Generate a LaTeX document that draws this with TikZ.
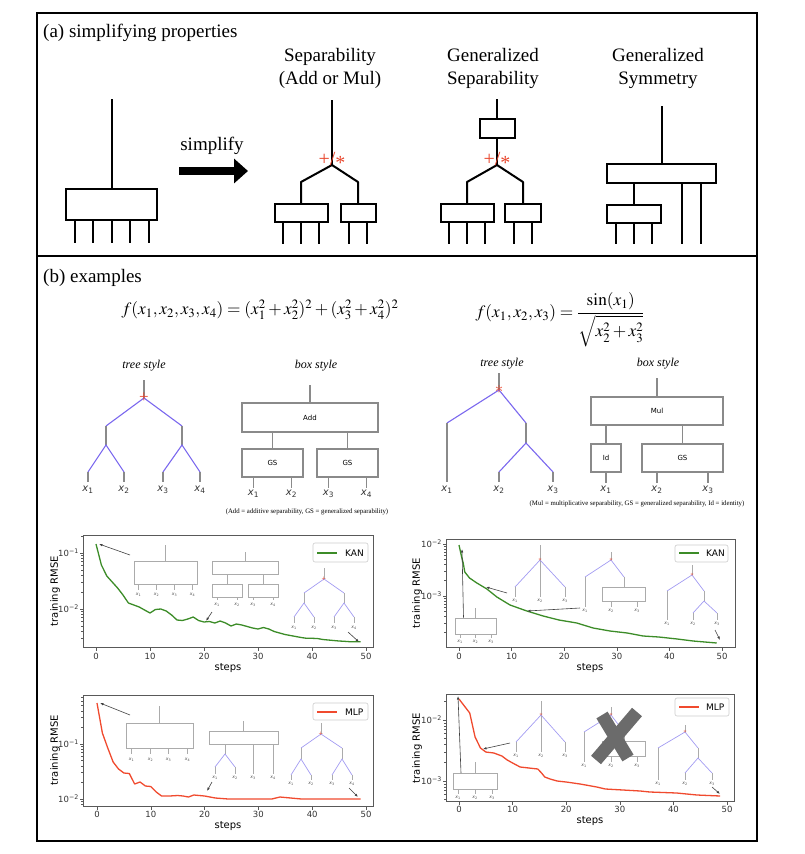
\documentclass[tikz,border=0pt]{standalone}
\usepackage{amsmath}
\usepackage{mathptmx}
\usepackage{fontspec}
\setmainfont{Liberation Serif}
\newfontfamily\plotfont{DejaVu Sans}
\usepackage{tikz}
\usetikzlibrary{arrows.meta}

\definecolor{treeblue}{HTML}{7B68EE}
\definecolor{treegray}{HTML}{8A8A8A}
\definecolor{insetblue}{HTML}{A29BF2}
\definecolor{insetgray}{HTML}{ABABAB}
\definecolor{starred}{HTML}{E8452C}
\definecolor{kangreen}{HTML}{3C8C28}
\definecolor{mlpred}{HTML}{F04A2E}

\newcommand{\xlab}[1]{{\plotfont\itshape x}{\plotfont\textsubscript{#1}}}

\begin{document}
\begin{tikzpicture}[x=1pt, y=-1pt,
    frm/.style={draw=black, line width=1.3},
    pa/.style={draw=black, line width=2},
    pabox/.style={pa, inner sep=0, fill=white},
    ttl/.style={font=\fontsize{19}{23}\selectfont, align=center, inner sep=0},
    hd/.style={font=\fontsize{19}{23}\selectfont, inner sep=0},
    eqn/.style={font=\fontsize{17.3}{21}\selectfont, inner sep=0},
    sty/.style={font=\fontsize{12}{12}\selectfont\itshape, inner sep=0},
    opsign/.style={text=starred, inner sep=0},
    gl/.style={draw=treegray, line width=1.1},
    bl/.style={draw=treeblue, line width=1.1},
    gbox/.style={draw=treegray, line width=1.1, inner sep=0, font=\plotfont\fontsize{7}{7}\selectfont},
    xl/.style={font=\fontsize{10}{10}\selectfont, inner sep=0, text=black!80},
    capt/.style={font=\fontsize{6.8}{7}\selectfont, inner sep=0},
    igl/.style={draw=insetgray, line width=0.7},
    ibl/.style={draw=insetblue, line width=0.7},
    ibox/.style={draw=insetgray, line width=0.7, inner sep=0},
    il/.style={font=\fontsize{4.5}{4.5}\selectfont, inner sep=0, text=black!70},
    ptr/.style={draw=black!75, line width=0.6, -{Latex[length=3.5,width=2.5]}},
    ax/.style={draw=black!65, line width=0.9},
    tk/.style={draw=black!65, line width=0.6},
    tkl/.style={font=\plotfont\fontsize{8.5}{8.5}\selectfont, text=black!80, inner sep=0},
    axl/.style={font=\plotfont\fontsize{10}{10}\selectfont, inner sep=0},
    lgl/.style={font=\plotfont\fontsize{9}{9}\selectfont, inner sep=0, anchor=west},
    lgd/.style={draw=black!20, line width=0.6, rounded corners=2, fill=white},
    kanc/.style={draw=kangreen, line width=1.3, line join=round},
    mlpc/.style={draw=mlpred, line width=1.3, line join=round},
  ]
\useasboundingbox (0,0) rectangle (805,854);

% frame
\draw[frm] (37,13) rectangle (757,841);
\draw[frm] (37,256) -- (757,256);

% ---------------- (a) ----------------
\node[hd, anchor=west] (parta) at (43,33) {(a) simplifying properties};
\node[ttl] (septtl) at (330,68) {Separability\\(Add or Mul)};
\node[ttl] (gsepttl) at (493,68) {Generalized\\Separability};
\node[ttl] (gsymttl) at (658,68) {Generalized\\Symmetry};

% unsimplified
\coordinate (top1) at (111.5,99);
\node[pabox, minimum width=91, minimum height=31] (full) at (111.5,204.5) {};
\draw[pa] (top1) -- (full.north);
\foreach \dx in {-37,-18.5,0,18.5,37}
  \draw[pa] ([xshift=\dx]full.south) -- ++(0,22);

% arrow
\node[hd] (simp) at (212,146) {simplify};
\coordinate (arA) at (179,171);
\coordinate (arB) at (248,171);
\draw[line width=8, -{Triangle[length=14,width=24]}] (arA) -- (arB);

% separability
\coordinate (top2) at (332,100);
\coordinate (j2) at (332,165);
\coordinate (l2) at (301,182);
\coordinate (r2) at (358,182);
\node[pabox, minimum width=53, minimum height=18] (sepL) at (301,213) {};
\node[pabox, minimum width=35, minimum height=18] (sepR) at (358,213) {};
\draw[pa] (top2) -- (j2);
\draw[pa, line join=round] (j2) -- (l2) -- (sepL.north);
\draw[pa, line join=round] (j2) -- (r2) -- (sepR.north);
\foreach \dx in {-18,0,18}
  \draw[pa] ([xshift=\dx]sepL.south) -- ++(0,21);
\foreach \dx in {-9,9}
  \draw[pa] ([xshift=\dx]sepR.south) -- ++(0,21);
\node[opsign, font=\fontsize{20}{20}\selectfont] (op2) at (332,161) {+/\raisebox{-0.35ex}{*}};

% generalized separability
\coordinate (top3) at (497,99);
\node[pabox, minimum width=35, minimum height=19] (gsepT) at (497,128.5) {};
\coordinate (j3) at (497,165);
\coordinate (l3) at (467,182);
\coordinate (r3) at (523,182);
\node[pabox, minimum width=53, minimum height=18] (gsepL) at (467,213) {};
\node[pabox, minimum width=36, minimum height=18] (gsepR) at (523,213) {};
\draw[pa] (top3) -- (gsepT.north);
\draw[pa] (gsepT.south) -- (j3);
\draw[pa, line join=round] (j3) -- (l3) -- (gsepL.north);
\draw[pa, line join=round] (j3) -- (r3) -- (gsepR.north);
\foreach \dx in {-18,0,18}
  \draw[pa] ([xshift=\dx]gsepL.south) -- ++(0,21);
\foreach \dx in {-9,9}
  \draw[pa] ([xshift=\dx]gsepR.south) -- ++(0,21);
\node[opsign, font=\fontsize{20}{20}\selectfont] (op3) at (497,161) {+/\raisebox{-0.35ex}{*}};

% generalized symmetry
\coordinate (top4) at (661.5,106);
\node[pabox, minimum width=109, minimum height=19] (symT) at (661.5,173.5) {};
\node[pabox, minimum width=54, minimum height=18] (symB) at (634,214) {};
\draw[pa] (top4) -- (symT.north);
\draw[pa] (symB.north) -- (symB.north |- symT.south);
\foreach \dx in {-18,0,18}
  \draw[pa] ([xshift=\dx]symB.south) -- ++(0,20);
\foreach \dx in {20.5,39.5}
  \draw[pa] ([xshift=\dx]symT.south) -- ++(0,60);

% ---------------- (b) ----------------
\node[hd, anchor=west] (partb) at (43,278) {(b) examples};
\node[eqn] (eq1) at (260,310) {$f(x_1,x_2,x_3,x_4)=(x_1^2+x_2^2)^2+(x_3^2+x_4^2)^2$};
\node[eqn] (eq2) at (560,320) {$f(x_1,x_2,x_3)=\dfrac{\sin(x_1)}{\sqrt{x_2^2+x_3^2}}$};

% tree style, first example
\node[sty] (tsA) at (144,366) {tree style};
\coordinate (aT) at (144,380);
\coordinate (aJ) at (144,398);
\coordinate (aL) at (106,426);
\coordinate (aLb) at (106,445);
\coordinate (aR) at (182,426);
\coordinate (aRb) at (182,445);
\coordinate (a1) at (88,472);
\coordinate (a2) at (124,472);
\coordinate (a3) at (163,472);
\coordinate (a4) at (200,472);
\draw[gl] (aT) -- (aJ);
\draw[bl] (aL) -- (aJ) -- (aR);
\draw[gl] (aL) -- (aLb);
\draw[gl] (aR) -- (aRb);
\draw[bl] (a1) -- (aLb) -- (a2);
\draw[bl] (a3) -- (aRb) -- (a4);
\foreach \p in {a1,a2,a3,a4}
  \draw[gl] (\p) -- ++(0,10);
\node[opsign, font=\fontsize{17}{17}\selectfont] (opA) at (aJ) {+};
\foreach \x/\i in {88/1,124/2,163/3,200/4}
  \node[xl] at (\x,490) {\xlab{\i}};

% box style, first example
\node[sty] (bsA) at (316,366) {box style};
\coordinate (bT) at (310,385);
\node[gbox, minimum width=136, minimum height=29] (add) at (310,417.5) {Add};
\node[gbox, minimum width=61, minimum height=28] (gs1) at (272.5,463) {GS};
\node[gbox, minimum width=61, minimum height=28] (gs2) at (347.5,463) {GS};
\draw[gl] (bT) -- (add.north);
\draw[gl] (gs1.north) -- (gs1.north |- add.south);
\draw[gl] (gs2.north) -- (gs2.north |- add.south);
\foreach \dx in {-19,19} {
  \draw[gl] ([xshift=\dx]gs1.south) -- ++(0,10);
  \draw[gl] ([xshift=\dx]gs2.south) -- ++(0,10);
}
\foreach \x/\i in {253.5/1,291.5/2,328.5/3,366.5/4}
  \node[xl] at (\x,494) {\xlab{\i}};
\node[capt] (capA) at (307,512) {(Add = additive separability, GS = generalized separability)};

% tree style, second example
\node[sty] (tsB) at (502,364) {tree style};
\coordinate (cT) at (499,373);
\coordinate (cJ) at (499,390);
\coordinate (cL) at (447,423);
\coordinate (cR) at (526,423);
\coordinate (cRb) at (526,443);
\coordinate (c2) at (499,472);
\coordinate (c3) at (553,472);
\draw[gl] (cT) -- (cJ);
\draw[bl] (cL) -- (cJ) -- (cR);
\draw[gl] (cL) -- ++(0,59);
\draw[gl] (cR) -- (cRb);
\draw[bl] (c2) -- (cRb) -- (c3);
\draw[gl] (c2) -- ++(0,10);
\draw[gl] (c3) -- ++(0,10);
\node[opsign, font=\fontsize{17}{17}\selectfont] (opB) at (cJ) {$\ast$};
\foreach \x/\i in {447/1,499/2,553/3}
  \node[xl] at (\x,490) {\xlab{\i}};

% box style, second example
\node[sty] (bsB) at (658,364) {box style};
\coordinate (dT) at (657,378);
\node[gbox, minimum width=132, minimum height=28] (mul) at (657,411) {Mul};
\node[gbox, minimum width=30, minimum height=28] (idb) at (606,458) {Id};
\node[gbox, minimum width=81, minimum height=28] (gs3) at (682.5,458) {GS};
\draw[gl] (dT) -- (mul.north);
\draw[gl] (idb.north) -- (idb.north |- mul.south);
\draw[gl] (gs3.north) -- (gs3.north |- mul.south);
\draw[gl] (idb.south) -- ++(0,10);
\draw[gl] ([xshift=-25.5]gs3.south) -- ++(0,10);
\draw[gl] ([xshift=25.5]gs3.south) -- ++(0,10);
\foreach \x/\i in {606/1,657/2,708/3}
  \node[xl] at (\x,490) {\xlab{\i}};
\node[capt] (capB) at (637,504) {(Mul = multiplicative separability, GS = generalized separability, Id = identity)};

% ---------------- plot: KAN, first example ----------------
\draw[ax] (83,535) rectangle (373,647);
\foreach \s/\lab in {0/0,1/10,2/20,3/30,4/40,5/50} {
  \draw[tk] ({96+54*\s},647) -- ++(0,3.5);
  \node[tkl] at ({96+54*\s},656) {\lab};
}
\draw[tk] (83,553) -- ++(-3.5,0);
\draw[tk] (83,609) -- ++(-3.5,0);
\begin{scope}
  \clip (76,535) rectangle (83,647);
  \foreach \dec in {553,609,665} \foreach \mm in {2,...,9}
    \draw[tk] (83,{\dec-56*log10(\mm)}) -- ++(-2,0);
\end{scope}
\node[tkl, anchor=east] at (79,553) {10\textsuperscript{−1}};
\node[tkl, anchor=east] at (79,609) {10\textsuperscript{−2}};
\node[axl, rotate=90] at (55,591) {training RMSE};
\node[axl] at (228,668) {steps};
\draw[lgd] (313,543) rectangle (368,562);
\draw[kanc, line width=1.5] (317,553) -- (337,553);
\node[lgl] at (345,553) {KAN};
\begin{scope}[shift={(96,0)}, xscale=5.4]
  \draw[kanc] plot coordinates {(0,544) (1,565) (2,576) (3,582) (4,588) (5,595) (6,603) (7,605) (8,607) (9,610) (10,613) (11,609.5) (12,609) (13,611) (14,615) (15,620) (16,620.5) (17,619) (18,617) (19,620.5) (20,622) (21,621.5) (22,623) (23,621) (24,623) (25,626) (26,624) (27,625) (28,626.5) (29,628) (30,629) (31,627.5) (32,629) (33,631.5) (34,633) (35,634.5) (36,635.5) (37,636.5) (38,637.5) (39,638.3) (40,638.3) (41,638.5) (42,639.5) (43,640) (44,640.5) (45,641) (46,641.3) (47,641.7) (48,641.8) (49,641.8)};
\end{scope}
% insets
\node[ibox, minimum width=63, minimum height=23] (k1a) at (165.5,572.5) {};
\draw[igl] (k1a.north) -- ++(0,-16);
\foreach \dx in {-27,-9,9,27}
  \draw[igl] ([xshift=\dx]k1a.south) -- ++(0,6);
\foreach \x/\i in {138.5/1,156.5/2,174.5/3,192.5/4}
  \node[il] at (\x,595) {\xlab{\i}};
\node[ibox, minimum width=66, minimum height=13] (k1b) at (245,567.5) {};
\node[ibox, minimum width=30, minimum height=13] (k1bl) at (227,590.5) {};
\node[ibox, minimum width=30, minimum height=13] (k1br) at (263,590.5) {};
\draw[igl] (k1b.north) -- ++(0,-9);
\draw[igl] (k1bl.north) -- (k1bl.north |- k1b.south);
\draw[igl] (k1br.north) -- (k1br.north |- k1b.south);
\foreach \dx in {-10,10} {
  \draw[igl] ([xshift=\dx]k1bl.south) -- ++(0,3);
  \draw[igl] ([xshift=\dx]k1br.south) -- ++(0,3);
}
\foreach \x/\i in {217/1,237/2,253/3,273/4}
  \node[il] at (\x,605) {\xlab{\i}};
\draw[igl] (324,568) -- (324,579);
\draw[ibl] (304,593) -- (324,579) -- (344,593);
\draw[igl] (304,593) -- (304,603);
\draw[igl] (344,593) -- (344,603);
\draw[ibl] (294,617) -- (304,603) -- (314,617);
\draw[ibl] (334,617) -- (344,603) -- (354,617);
\foreach \x/\i in {294/1,314/2,334/3,354/4} {
  \draw[igl] (\x,617) -- ++(0,6);
  \node[il] at (\x,627.5) {\xlab{\i}};
}
\node[opsign, font=\fontsize{8}{8}\selectfont] at (324,579) {+};
\coordinate (k1s0) at (99,544);
\coordinate (k1s21) at (206,621);
\coordinate (k1s49) at (359,642);
\draw[ptr] (130,555) -- (k1s0);
\draw[ptr] (212,612) -- (k1s21);
\draw[ptr] (348,632) -- (k1s49);

% ---------------- plot: KAN, second example ----------------
\draw[ax] (446,539) rectangle (735,647);
\foreach \s/\lab in {0/0,1/10,2/20,3/30,4/40,5/50} {
  \draw[tk] ({459+52.6*\s},647) -- ++(0,3.5);
  \node[tkl] at ({459+52.6*\s},656) {\lab};
}
\draw[tk] (446,544) -- ++(-3.5,0);
\draw[tk] (446,596) -- ++(-3.5,0);
\begin{scope}
  \clip (439,539) rectangle (446,647);
  \foreach \dec in {544,596,648} \foreach \mm in {2,...,9}
    \draw[tk] (446,{\dec-52*log10(\mm)}) -- ++(-2,0);
\end{scope}
\node[tkl, anchor=east] at (442,544) {10\textsuperscript{−2}};
\node[tkl, anchor=east] at (442,596) {10\textsuperscript{−3}};
\node[axl, rotate=90] at (417,593) {training RMSE};
\node[axl] at (590,668) {steps};
\draw[lgd] (675,545) rectangle (728,562);
\draw[kanc, line width=1.5] (679,553) -- (699,553);
\node[lgl] at (706,553) {KAN};
\begin{scope}[shift={(459,0)}, xscale=5.26]
  \draw[kanc] plot coordinates {(0,545) (0.5,557) (0.8,563) (1.1,572) (2,578) (3.4,583) (5.3,589) (7.2,597) (9.7,605) (12.9,611) (16,616) (19,620) (22.4,623) (25.5,628) (28.7,631) (32,633) (35,636) (38,637) (41.5,639) (44.5,641) (49,643)};
\end{scope}
% insets
\node[ibox, minimum width=41, minimum height=16] (k2a) at (475.5,626) {};
\draw[igl] (k2a.north) -- ++(0,-10);
\foreach \dx/\i in {-15.5/1,0/2,15.5/3} {
  \draw[igl] ([xshift=\dx]k2a.south) -- ++(0,4);
  \node[il] at ([xshift=\dx,yshift=-7]k2a.south) {\xlab{\i}};
}
\draw[igl] (540,545) -- (540,597);
\draw[ibl] (515,587) -- (540,560) -- (565,587);
\draw[igl] (515,587) -- (515,597);
\draw[igl] (565,587) -- (565,597);
\node[opsign, font=\fontsize{7}{7}\selectfont] at (540,560) {$\ast$};
\foreach \x/\i in {515/1,540/2,565/3}
  \node[il] at (\x,601) {\xlab{\i}};
\draw[igl] (611,552) -- (611,560);
\draw[ibl] (585,577) -- (611,560) -- (624,577);
\draw[igl] (585,577) -- (585,607);
\node[ibox, minimum width=43, minimum height=14] (k2c) at (624,594) {};
\draw[igl] (624,577) -- (k2c.north);
\draw[igl] ([xshift=-13]k2c.south) -- ++(0,6);
\draw[igl] ([xshift=13]k2c.south) -- ++(0,6);
\node[opsign, font=\fontsize{7}{7}\selectfont] at (611,560) {$\ast$};
\foreach \x/\i in {585/1,611/2,637/3}
  \node[il] at (\x,611) {\xlab{\i}};
\draw[igl] (692,565) -- (692,575);
\draw[ibl] (667,591) -- (692,575) -- (704,591);
\draw[igl] (667,591) -- (667,620);
\draw[igl] (704,591) -- (704,601);
\draw[ibl] (693,613) -- (704,601) -- (717,613);
\draw[igl] (693,613) -- ++(0,7);
\draw[igl] (717,613) -- ++(0,7);
\node[opsign, font=\fontsize{7}{7}\selectfont] at (692,575) {$\ast$};
\foreach \x/\i in {667/1,693/2,717/3}
  \node[il] at (\x,624) {\xlab{\i}};
\coordinate (k2s0) at (462,549);
\coordinate (k2s5) at (486,587);
\coordinate (k2s13) at (527,611);
\coordinate (k2s49) at (720,640);
\draw[ptr] (k2a.north) ++(-12,0) -- (k2s0);
\draw[ptr] (507,593) -- (k2s5);
\draw[ptr] (580,608) -- (k2s13);
\draw[ptr] (715,630) -- (k2s49);

% ---------------- plot: MLP, first example ----------------
\draw[ax] (83,695) rectangle (373,806);
\foreach \s/\lab in {0/0,1/10,2/20,3/30,4/40,5/50} {
  \draw[tk] ({97+53.8*\s},806) -- ++(0,3.5);
  \node[tkl] at ({97+53.8*\s},814) {\lab};
}
\draw[tk] (83,744) -- ++(-3.5,0);
\draw[tk] (83,799) -- ++(-3.5,0);
\begin{scope}
  \clip (76,695) rectangle (83,806);
  \foreach \dec in {744,799,854} \foreach \mm in {2,...,9}
    \draw[tk] (83,{\dec-55*log10(\mm)}) -- ++(-2,0);
\end{scope}
\node[tkl, anchor=east] at (79,744) {10\textsuperscript{−1}};
\node[tkl, anchor=east] at (79,799) {10\textsuperscript{−2}};
\node[axl, rotate=90] at (55,750) {training RMSE};
\node[axl] at (228,826) {steps};
\draw[lgd] (313,703) rectangle (368,720);
\draw[mlpc, line width=1.5] (317,712) -- (337,712);
\node[lgl] at (345,712) {MLP};
\begin{scope}[shift={(97,0)}, xscale=5.38]
  \draw[mlpc] plot coordinates {(0,703) (1,733) (2,748) (3,762) (4,769) (5,773) (6,773.5) (7,784) (8,782) (9,786) (10,786.5) (11,792) (12,796) (13.5,796) (15,795.5) (16,796) (17,797) (18,795) (20,796) (22,798) (24.4,799) (32.5,799) (34,797) (38,799) (49,799)};
\end{scope}
% insets
\node[ibox, minimum width=67, minimum height=25] (m1a) at (159.5,735.5) {};
\draw[igl] (m1a.north) -- ++(0,-17);
\foreach \dx/\i in {-28/1,-9/2,9/3,28/4} {
  \draw[igl] ([xshift=\dx]m1a.south) -- ++(0,6);
  \node[il] at ([xshift=\dx,yshift=-11]m1a.south) {\xlab{\i}};
}
\node[ibox, minimum width=69, minimum height=13] (m1b) at (243.5,737.5) {};
\draw[igl] (m1b.north) -- ++(0,-10);
\draw[igl] (225,744) -- (225,754);
\draw[ibl] (215,767) -- (225,754) -- (235,767);
\draw[igl] (215,767) -- ++(0,7);
\draw[igl] (235,767) -- ++(0,7);
\draw[igl] (253,744) -- (253,774);
\draw[igl] (273,744) -- (273,774);
\foreach \x/\i in {215/1,235/2,253/3,273/4}
  \node[il] at (\x,778) {\xlab{\i}};
\draw[igl] (321,723) -- (321,734);
\draw[ibl] (301,748) -- (321,734) -- (342,748);
\draw[igl] (301,748) -- (301,759);
\draw[igl] (342,748) -- (342,759);
\draw[ibl] (291,775) -- (301,759) -- (311,775);
\draw[ibl] (332,775) -- (342,759) -- (352,775);
\foreach \x/\i in {291/1,311/2,332/3,352/4} {
  \draw[igl] (\x,775) -- ++(0,5);
  \node[il] at (\x,784) {\xlab{\i}};
}
\node[opsign, font=\fontsize{8}{8}\selectfont] at (321,734) {+};
\coordinate (m1s0) at (100,703);
\coordinate (m1s21) at (207,791);
\coordinate (m1s49) at (358,797);
\draw[ptr] (130,715) -- (m1s0);
\draw[ptr] (212,782) -- (m1s21);
\draw[ptr] (349,788) -- (m1s49);

% ---------------- plot: MLP, second example ----------------
\draw[ax] (446,694) rectangle (734,801);
\foreach \s/\lab in {0/0,1/10,2/20,3/30,4/40,5/50} {
  \draw[tk] ({459+53.6*\s},801) -- ++(0,3.5);
  \node[tkl] at ({459+53.6*\s},809) {\lab};
}
\draw[tk] (446,720) -- ++(-3.5,0);
\draw[tk] (446,781) -- ++(-3.5,0);
\begin{scope}
  \clip (439,694) rectangle (446,801);
  \foreach \dec in {720,781,842} \foreach \mm in {2,...,9}
    \draw[tk] (446,{\dec-61*log10(\mm)}) -- ++(-2,0);
\end{scope}
\node[tkl, anchor=east] at (442,720) {10\textsuperscript{−2}};
\node[tkl, anchor=east] at (442,781) {10\textsuperscript{−3}};
\node[axl, rotate=90] at (417,748) {training RMSE};
\node[axl] at (590,821) {steps};
\draw[lgd] (675,698) rectangle (729,716);
\draw[mlpc, line width=1.5] (679,707) -- (699,707);
\node[lgl] at (706,707) {MLP};
\begin{scope}[shift={(459,0)}, xscale=5.36]
  \draw[mlpc] plot coordinates {(0,699) (2,713) (3,737) (4,748) (5,752) (6.5,753) (8,756) (9,760) (10,763) (11.4,767) (14.7,769) (15.4,773) (16,777) (17,779) (18.3,781) (20,782) (22.6,784) (25.7,787) (27.3,789) (30.6,790) (33.8,791) (35.6,792) (40.6,793) (44.4,795) (48.7,796)};
\end{scope}
% insets
\node[ibox, minimum width=44, minimum height=16] (m2a) at (475,781) {};
\draw[igl] (m2a.north) -- ++(0,-11);
\foreach \dx/\i in {-17/1,0/2,17/3} {
  \draw[igl] ([xshift=\dx]m2a.south) -- ++(0,5);
  \node[il] at ([xshift=\dx,yshift=-8]m2a.south) {\xlab{\i}};
}
\draw[igl] (541,701) -- (541,752);
\draw[ibl] (516,742) -- (541,715) -- (565,742);
\draw[igl] (516,742) -- (516,752);
\draw[igl] (565,742) -- (565,752);
\node[opsign, font=\fontsize{7}{7}\selectfont] at (541,715) {$\ast$};
\foreach \x/\i in {516/1,541/2,565/3}
  \node[il] at (\x,756) {\xlab{\i}};
\draw[igl] (611,707) -- (611,715);
\draw[ibl] (584,732) -- (611,715) -- (624,732);
\draw[igl] (584,732) -- (584,762);
\node[ibox, minimum width=43, minimum height=15] (m2c) at (624,748.5) {};
\draw[igl] (624,732) -- (m2c.north);
\draw[igl] ([xshift=-13]m2c.south) -- ++(0,6);
\draw[igl] ([xshift=13]m2c.south) -- ++(0,6);
\node[opsign, font=\fontsize{7}{7}\selectfont] at (611,715) {$\ast$};
\foreach \x/\i in {584/1,611/2,637/3}
  \node[il] at (\x,766) {\xlab{\i}};
\draw[line width=13, draw=black!58] (602,715) -- (628,758);
\draw[line width=13, draw=black!58] (637,712) -- (596,760);
\draw[igl] (685,725) -- (685,732);
\draw[ibl] (658,748) -- (685,732) -- (698,748);
\draw[igl] (658,748) -- (658,780);
\draw[igl] (698,748) -- (698,758);
\draw[ibl] (685,773) -- (698,758) -- (712,773);
\draw[igl] (685,773) -- ++(0,7);
\draw[igl] (712,773) -- ++(0,7);
\node[opsign, font=\fontsize{7}{7}\selectfont] at (685,732) {$\ast$};
\foreach \x/\i in {658/1,685/2,712/3}
  \node[il] at (\x,784) {\xlab{\i}};
\coordinate (m2s0) at (458,696);
\coordinate (m2s4) at (483,749);
\coordinate (m2s49) at (720,794);
\draw[ptr] (461,773) -- (m2s0);
\draw[ptr] (510,743) -- (m2s4);
\draw[ptr] (712,787) -- (m2s49);
\end{tikzpicture}
\end{document}
